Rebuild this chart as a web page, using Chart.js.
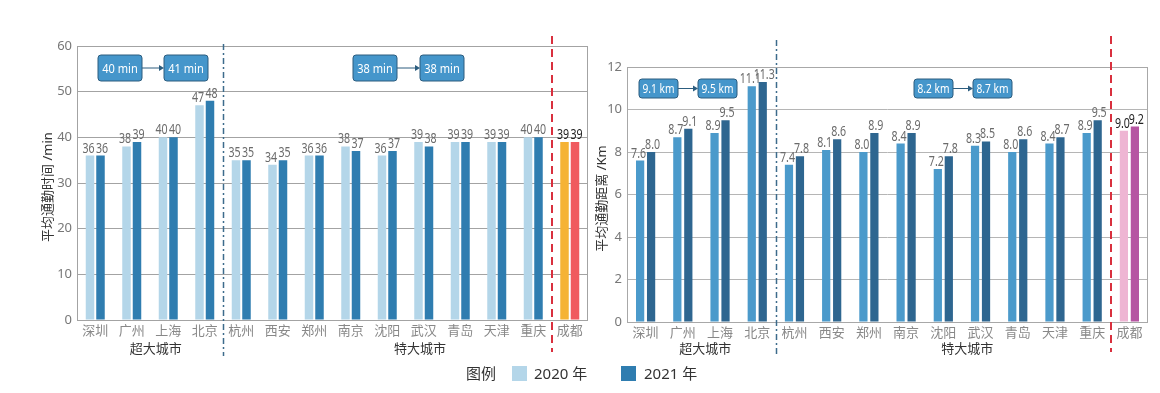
<!DOCTYPE html>
<html>
<head>
<meta charset="utf-8">
<script src="https://cdn.jsdelivr.net/npm/chart.js@4/dist/chart.umd.min.js"></script>
<style>
html, body { margin: 0; padding: 0; background: #fff; }
body { width: 1160px; height: 393px; position: relative; overflow: hidden;
       font-family: "Noto Sans", "Noto Sans CJK SC", sans-serif; }
#cl { position: absolute; left: 0; top: 0; }
#cr { position: absolute; left: 580px; top: 0; }
.lg { position: absolute; top: 362px; font-size: 15px; color: #333; line-height: 22px; }
.sw { position: absolute; top: 366px; width: 15px; height: 15px; }
</style>
</head>
<body>
<canvas id="cl" width="600" height="393"></canvas>
<canvas id="cr" width="580" height="393"></canvas>
<div class="lg" style="left:466px">图例</div>
<div class="sw" style="left:512px;background:#b4d6e9"></div>
<div class="lg" style="left:534px">2020 年</div>
<div class="sw" style="left:621px;background:#2f7db0"></div>
<div class="lg" style="left:644px">2021 年</div>
<script>
// cities and values
var cities = ["深圳", "广州", "上海", "北京", "杭州", "西安", "郑州", "南京", "沈阳", "武汉", "青岛", "天津", "重庆", "成都"];
var time2020 = [36, 38, 40, 47, 35, 34, 36, 38, 36, 39, 39, 39, 40, 39];
var time2021 = [36, 39, 40, 48, 35, 35, 36, 37, 37, 38, 39, 39, 40, 39];
var dist2020 = [7.6, 8.7, 8.9, 11.1, 7.4, 8.1, 8.0, 8.4, 7.2, 8.3, 8.0, 8.4, 8.9, 9.0];
var dist2021 = [8.0, 9.1, 9.5, 11.3, 7.8, 8.6, 8.9, 8.9, 7.8, 8.5, 8.6, 8.7, 9.5, 9.2];
var timeBoxes = ["40 min", "41 min", "38 min", "38 min"];
var distBoxes = ["9.1 km", "9.5 km", "8.2 km", "8.7 km"];
var groups = ["超大城市", "特大城市"];

var FONT = '"Noto Sans", "Noto Sans CJK SC", sans-serif';
Chart.defaults.font.family = FONT;

function colors(n, normal, last) {
    var c = [];
    for (var i = 0; i < n; i++) c.push(i == n - 1 ? last : normal);
    return c;
}

// data labels above the bars
var barLabels = {
    id: 'barLabels',
    afterDatasetsDraw: function(chart, args, opts) {
        var ctx = chart.ctx;
        chart.data.datasets.forEach(function(ds, di) {
            var meta = chart.getDatasetMeta(di);
            meta.data.forEach(function(bar, i) {
                var txt = opts.digits ? ds.data[i].toFixed(opts.digits) : String(ds.data[i]);
                ctx.save();
                ctx.translate(bar.x + (di ? 1.5 : -1.5), bar.y - 3);
                ctx.scale(0.76, 1);
                ctx.font = '14px ' + FONT;
                ctx.fillStyle = i == ds.data.length - 1 ? '#222' : '#6b6b6b';
                ctx.textAlign = 'center';
                ctx.fillText(txt, 0, 0);
                ctx.restore();
            });
        });
    }
};

function box(ctx, x, y, w, h, txt, fs) {
    ctx.beginPath();
    ctx.roundRect(x, y, w, h, 3);
    ctx.fillStyle = '#4596cb';
    ctx.fill();
    ctx.strokeStyle = '#2c5d7f';
    ctx.lineWidth = 1;
    ctx.stroke();
    ctx.save();
    ctx.translate(x + w / 2, y + h / 2 + 1);
    ctx.scale(0.85, 1);
    ctx.fillStyle = '#fff';
    ctx.font = fs + 'px ' + FONT;
    ctx.textAlign = 'center';
    ctx.textBaseline = 'middle';
    ctx.fillText(txt, 0, 0);
    ctx.restore();
}

function arrow(ctx, x1, x2, y) {
    ctx.strokeStyle = '#2c5d7f';
    ctx.fillStyle = '#2c5d7f';
    ctx.lineWidth = 1;
    ctx.beginPath();
    ctx.moveTo(x1, y);
    ctx.lineTo(x2 - 3, y);
    ctx.stroke();
    ctx.beginPath();
    ctx.moveTo(x2, y);
    ctx.lineTo(x2 - 5, y - 3);
    ctx.lineTo(x2 - 5, y + 3);
    ctx.closePath();
    ctx.fill();
}

// frame, separators, boxes, group labels, axis title
var notes = {
    id: 'notes',
    afterDraw: function(chart, args, o) {
        var ctx = chart.ctx, a = chart.chartArea, xs = chart.scales.x;
        var step = xs.getPixelForValue(1) - xs.getPixelForValue(0);
        ctx.save();
        ctx.strokeStyle = o.frame;
        ctx.lineWidth = 1;
        ctx.strokeRect(Math.round(a.left) + 0.5, Math.round(a.top) + 0.5, Math.round(a.right - a.left) - 1, Math.round(a.bottom - a.top));

        // blue dash-dot separator
        var xb = Math.round(xs.getPixelForValue(3) + step / 2) + 0.5;
        ctx.strokeStyle = '#3d6b8c';
        ctx.lineWidth = 1.5;
        ctx.setLineDash([6, 3, 2, 3]);
        ctx.beginPath();
        ctx.moveTo(xb, o.sepTop);
        ctx.lineTo(xb, 356);
        ctx.stroke();

        // red dashed separator
        var xr = Math.round(xs.getPixelForValue(12) + step / 2);
        ctx.strokeStyle = '#d9303e';
        ctx.lineWidth = 2;
        ctx.setLineDash([8, 5]);
        ctx.beginPath();
        ctx.moveTo(xr, 36);
        ctx.lineTo(xr, 352);
        ctx.stroke();
        ctx.setLineDash([]);

        // boxes
        for (var k = 0; k < 2; k++) {
            var x1 = a.left + o.boxX[2 * k], x2 = a.left + o.boxX[2 * k + 1];
            var y = a.top + o.boxY;
            box(ctx, x1, y, o.boxW, o.boxH, o.boxes[2 * k], o.boxFont);
            box(ctx, x2, y, o.boxW, o.boxH, o.boxes[2 * k + 1], o.boxFont);
            arrow(ctx, x1 + o.boxW, x2, y + o.boxH / 2);
        }

        // group labels
        ctx.fillStyle = '#333';
        ctx.font = '13px ' + FONT;
        ctx.textAlign = 'center';
        ctx.textBaseline = 'middle';
        o.groupAt.forEach(function(v, i) {
            var gx = xs.getPixelForValue(0) + v * step;
            ctx.fillText(groups[i], gx, 349);
        });

        // y axis title
        ctx.save();
        ctx.translate(o.titleX, (a.top + a.bottom) / 2 + 4);
        ctx.rotate(-Math.PI / 2);
        ctx.fillStyle = '#333';
        ctx.font = '13px ' + FONT;
        ctx.fillText(o.title, 0, 0);
        ctx.restore();
        ctx.restore();
    }
};

function makeChart(id, d1, d2, c1, c2, c1last, c2last, opts) {
    return new Chart(document.getElementById(id), {
        type: 'bar',
        data: {
            labels: cities,
            datasets: [
                { label: '2020 年', data: d1, backgroundColor: colors(cities.length, c1, c1last),
                  categoryPercentage: opts.catPct, barPercentage: opts.barPct },
                { label: '2021 年', data: d2, backgroundColor: colors(cities.length, c2, c2last),
                  categoryPercentage: opts.catPct, barPercentage: opts.barPct }
            ]
        },
        options: {
            responsive: false,
            animation: false,
            layout: { padding: { top: opts.padTop, right: 12, left: 0, bottom: 0 } },
            plugins: {
                legend: { display: false },
                tooltip: { enabled: false },
                barLabels: { digits: opts.digits },
                notes: opts.notes
            },
            scales: {
                x: {
                    grid: { display: false, drawTicks: false },
                    border: { display: false },
                    ticks: { color: '#888', font: { size: 13 }, padding: 3, autoSkip: false, maxRotation: 0 },
                    afterFit: function(s) { s.height = opts.xHeight; }
                },
                y: {
                    min: 0, max: opts.max,
                    ticks: { stepSize: opts.step, color: '#777', padding: 5, font: { size: 13 } },
                    grid: { color: opts.gridColor, drawTicks: false },
                    border: { display: false },
                    afterFit: function(s) { s.width = opts.yWidth; }
                }
            }
        },
        plugins: [barLabels, notes]
    });
}

makeChart('cl', time2020, time2021, '#b4d6e9', '#2f7db0', '#f5b335', '#f05a5f', {
    catPct: 0.575, barPct: 0.81, padTop: 46, xHeight: 73, yWidth: 77,
    max: 60, step: 10, digits: 0, gridColor: '#a3a3a3',
    notes: { frame: '#a3a3a3', sepTop: 44, boxX: [21, 87, 276, 343], boxY: 9, boxW: 44, boxH: 26,
             boxFont: 13, boxes: timeBoxes, groupAt: [1.66, 8.9], title: '平均通勤时间 /min', titleX: 48 }
});

makeChart('cr', dist2020, dist2021, '#4b9acb', '#2e6690', '#eeb5d3', '#b655a2', {
    catPct: 0.59, barPct: 0.75, padTop: 67, xHeight: 71, yWidth: 47,
    max: 12, step: 2, digits: 1, gridColor: '#b5b5b5',
    notes: { frame: '#a8a8a8', sepTop: 40, boxX: [12, 71, 287, 346], boxY: 12, boxW: 39, boxH: 19,
             boxFont: 12, boxes: distBoxes, groupAt: [1.6, 8.64], title: '平均通勤距离 /Km', titleX: 22 }
});
</script>
</body>
</html>
